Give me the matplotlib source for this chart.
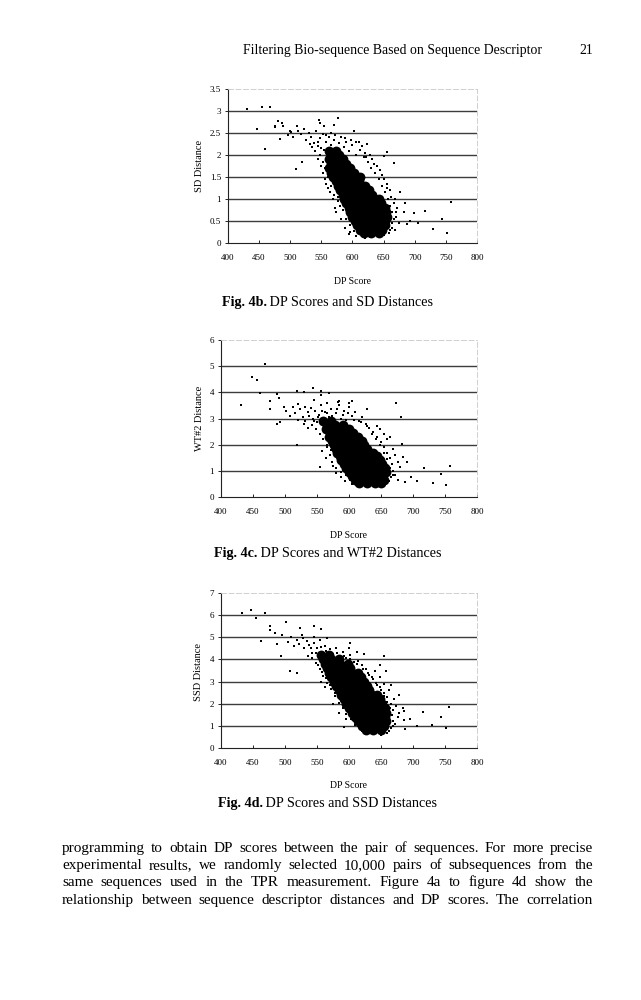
import numpy as np
import matplotlib
matplotlib.use('Agg')
import matplotlib.pyplot as plt
from matplotlib.ticker import MultipleLocator, FuncFormatter

plt.rcParams['font.family'] = ['Liberation Serif', 'DejaVu Serif']

# ---- data (DP score, distance) ----
# dense core of each cloud
sd_core = [(562, 2.1), (574, 2.1),
           (566, 2.0), (578, 2.0),
           (562, 1.9), (572, 1.9), (584, 1.9),
           (566, 1.8), (578, 1.8), (590, 1.8),
           (562, 1.7), (572, 1.7), (584, 1.7), (596, 1.7),
           (566, 1.6), (578, 1.6), (590, 1.6), (602, 1.6),
           (568, 1.5), (580, 1.5), (592, 1.5), (604, 1.5), (612, 1.5),
           (574, 1.4), (586, 1.4), (598, 1.4), (610, 1.4),
           (576, 1.3), (588, 1.3), (600, 1.3), (612, 1.3), (620, 1.3),
           (580, 1.2), (592, 1.2), (604, 1.2), (616, 1.2), (626, 1.2),
           (584, 1.1), (596, 1.1), (608, 1.1), (620, 1.1), (632, 1.1),
           (586, 1.0), (598, 1.0), (610, 1.0), (622, 1.0), (634, 1.0), (642, 1.0),
           (590, 0.9), (602, 0.9), (614, 0.9), (626, 0.9), (638, 0.9), (646, 0.9),
           (594, 0.8), (606, 0.8), (618, 0.8), (630, 0.8), (642, 0.8), (652, 0.8),
           (596, 0.7), (608, 0.7), (620, 0.7), (632, 0.7), (644, 0.7), (654, 0.7),
           (600, 0.6), (612, 0.6), (624, 0.6), (636, 0.6), (648, 0.6), (656, 0.6),
           (604, 0.5), (616, 0.5), (628, 0.5), (640, 0.5), (652, 0.5),
           (608, 0.4), (620, 0.4), (632, 0.4), (644, 0.4), (652, 0.4),
           (612, 0.3), (624, 0.3), (636, 0.3), (648, 0.3),
           (618, 0.22), (630, 0.22), (642, 0.22)]
sd_edge = [(497, 2.45), (502, 2.52), (505, 2.40), (512, 2.55), (518, 2.48), (522, 2.60),
           (526, 2.35), (530, 2.50), (534, 2.42), (538, 2.28), (541, 2.55), (545, 2.20),
           (548, 2.38), (552, 2.48), (555, 2.12), (558, 2.30), (561, 2.05), (563, 2.40),
           (566, 2.22), (570, 2.35), (574, 2.15), (578, 2.28), (582, 2.42), (586, 2.18),
           (590, 2.30), (595, 2.10), (600, 2.22), (605, 2.00), (612, 2.12), (618, 1.95),
           (625, 1.85), (630, 1.70), (636, 1.60), (642, 1.45), (647, 1.30), (652, 1.15),
           (657, 1.00), (661, 0.85), (664, 0.70), (666, 0.55), (663, 0.35), (658, 0.22),
           (650, 0.18), (640, 0.15), (628, 0.14), (615, 0.18), (603, 0.28), (596, 0.40),
           (590, 0.55), (585, 0.75), (580, 0.85), (576, 0.95), (571, 1.10), (566, 1.30),
           (561, 1.50), (556, 1.70), (552, 1.85), (548, 2.00), (544, 1.90), (540, 2.10),
           (535, 2.18), (531, 2.25), (556, 1.45), (560, 1.25), (572, 0.80), (577, 1.05),
           (610, 2.30), (620, 2.05), (632, 1.90), (640, 1.75), (648, 1.55), (655, 1.35),
           (660, 1.20), (668, 1.00), (672, 0.80), (670, 0.60), (675, 0.45), (668, 0.30),
           (545, 2.30), (550, 2.15), (557, 2.45), (565, 2.50), (572, 2.45), (588, 2.38),
           (598, 2.35), (606, 2.30), (615, 2.20), (622, 1.95), (628, 2.00), (634, 1.80),
           (644, 1.65), (650, 1.45), (656, 1.25), (662, 1.05), (666, 0.90), (670, 0.70),
           (553, 1.60), (549, 1.75), (558, 1.35), (564, 1.15), (568, 1.00), (574, 0.70),
           (582, 0.55), (588, 0.35), (596, 0.25), (606, 0.15), (620, 0.12), (660, 0.30),
           (664, 0.45)]
sd_out = [(430, 3.05), (455, 3.08), (467, 3.10), (447, 2.59), (460, 2.14), (475, 2.67),
          (476, 2.63), (480, 2.77), (484, 2.37), (487, 2.73), (489, 2.65), (500, 2.54),
          (509, 1.68), (511, 2.67), (519, 1.83), (546, 2.79), (548, 2.73), (554, 2.67),
          (571, 2.69), (577, 2.84), (603, 2.54), (623, 2.26), (655, 2.06), (650, 1.98),
          (666, 1.82), (677, 1.17), (685, 0.91), (698, 0.68), (717, 0.72), (706, 0.45),
          (730, 0.32), (744, 0.55), (752, 0.23), (758, 0.93), (595, 0.21), (682, 0.70),
          (688, 0.44), (692, 0.49)]

wt_core = [(560, 2.9), (572, 2.9),
           (566, 2.75), (578, 2.75), (590, 2.75),
           (564, 2.6), (576, 2.6), (588, 2.6), (600, 2.6),
           (570, 2.45), (582, 2.45), (594, 2.45), (606, 2.45),
           (568, 2.3), (580, 2.3), (592, 2.3), (604, 2.3), (614, 2.3),
           (574, 2.15), (586, 2.15), (598, 2.15), (610, 2.15), (620, 2.15),
           (576, 2.0), (588, 2.0), (600, 2.0), (612, 2.0), (624, 2.0),
           (580, 1.85), (592, 1.85), (604, 1.85), (616, 1.85), (628, 1.85),
           (582, 1.7), (594, 1.7), (606, 1.7), (618, 1.7), (630, 1.7), (638, 1.7),
           (586, 1.55), (598, 1.55), (610, 1.55), (622, 1.55), (634, 1.55), (644, 1.55),
           (588, 1.4), (600, 1.4), (612, 1.4), (624, 1.4), (636, 1.4), (648, 1.4),
           (592, 1.25), (604, 1.25), (616, 1.25), (628, 1.25), (640, 1.25), (652, 1.25),
           (596, 1.1), (608, 1.1), (620, 1.1), (632, 1.1), (644, 1.1), (656, 1.1),
           (600, 0.95), (612, 0.95), (624, 0.95), (636, 0.95), (648, 0.95), (658, 0.95),
           (604, 0.8), (616, 0.8), (628, 0.8), (640, 0.8), (652, 0.8),
           (610, 0.65), (622, 0.65), (634, 0.65), (646, 0.65), (654, 0.65),
           (616, 0.52), (628, 0.52), (640, 0.52), (650, 0.52)]
wt_edge = [(502, 3.30), (508, 3.10), (512, 3.45), (516, 3.20), (520, 2.95), (524, 3.35),
           (528, 3.05), (532, 2.90), (536, 3.25), (540, 3.40), (544, 3.00), (547, 3.30),
           (550, 2.85), (553, 3.15), (556, 3.50), (559, 2.95), (562, 3.25), (565, 3.60),
           (568, 3.05), (572, 3.35), (576, 2.95), (580, 3.20), (584, 3.50), (588, 3.00),
           (592, 3.30), (596, 2.95), (600, 3.45), (605, 3.10), (610, 3.25), (615, 2.90),
           (620, 3.05), (626, 2.80), (632, 2.65), (638, 2.50), (644, 2.30), (650, 2.10),
           (655, 1.90), (660, 1.70), (664, 1.50), (667, 1.25), (668, 1.00), (666, 0.75),
           (660, 0.55), (650, 0.45), (638, 0.42), (625, 0.45), (612, 0.50), (602, 0.65),
           (596, 0.85), (590, 1.05), (584, 1.30), (578, 1.55), (572, 1.80), (566, 2.00),
           (560, 2.20), (554, 2.40), (548, 2.60), (542, 2.75), (536, 2.65), (530, 2.80),
           (558, 1.75), (564, 1.50), (575, 1.20), (580, 0.90), (588, 0.75),
           (648, 2.60), (655, 2.40), (660, 2.20), (668, 1.85), (672, 1.60), (676, 1.35),
           (680, 1.15), (672, 0.85), (676, 0.65), (584, 3.65), (600, 3.60), (520, 3.55),
           (532, 3.45), (556, 3.90), (545, 3.70),
           (538, 3.10), (545, 2.90), (552, 3.05), (558, 3.30), (566, 3.20), (574, 3.10),
           (582, 3.35), (590, 3.15), (598, 3.20), (608, 2.95), (618, 2.85), (628, 2.70),
           (636, 2.40), (642, 2.20), (648, 2.00), (654, 1.70), (660, 1.45), (664, 1.10),
           (668, 0.85), (662, 0.60), (570, 1.60), (566, 1.90), (574, 1.35), (580, 1.10),
           (588, 0.95), (594, 0.60), (604, 0.48), (630, 0.40), (644, 0.42)]
wt_out = [(432, 3.50), (448, 4.57), (456, 4.47), (468, 5.10), (461, 3.98), (476, 3.66),
          (476, 3.38), (487, 3.92), (487, 2.80), (492, 2.87), (490, 3.77), (499, 3.45),
          (518, 4.06), (519, 2.00), (530, 4.02), (543, 4.17), (556, 4.05), (568, 3.96),
          (583, 3.64), (604, 3.66), (628, 3.36), (644, 2.72), (673, 3.60), (681, 3.06),
          (664, 2.30), (683, 2.04), (685, 1.53), (690, 1.34), (688, 0.57), (697, 0.77),
          (706, 0.60), (717, 1.12), (731, 0.55), (744, 0.87), (751, 0.47), (758, 1.19),
          (555, 1.15)]

ssd_core = [(556, 4.2), (568, 4.2),
            (560, 4.0), (572, 4.0), (584, 4.0),
            (562, 3.8), (574, 3.8), (586, 3.8), (598, 3.8),
            (566, 3.6), (578, 3.6), (590, 3.6), (602, 3.6),
            (568, 3.4), (580, 3.4), (592, 3.4), (604, 3.4), (614, 3.4),
            (572, 3.2), (584, 3.2), (596, 3.2), (608, 3.2), (618, 3.2),
            (576, 3.0), (588, 3.0), (600, 3.0), (612, 3.0), (624, 3.0),
            (580, 2.8), (592, 2.8), (604, 2.8), (616, 2.8), (628, 2.8),
            (584, 2.6), (596, 2.6), (608, 2.6), (620, 2.6), (632, 2.6),
            (588, 2.4), (600, 2.4), (612, 2.4), (624, 2.4), (636, 2.4), (644, 2.4),
            (592, 2.2), (604, 2.2), (616, 2.2), (628, 2.2), (640, 2.2), (648, 2.2),
            (596, 2.0), (608, 2.0), (620, 2.0), (632, 2.0), (644, 2.0), (652, 2.0),
            (600, 1.8), (612, 1.8), (624, 1.8), (636, 1.8), (648, 1.8), (656, 1.8),
            (604, 1.6), (616, 1.6), (628, 1.6), (640, 1.6), (652, 1.6), (658, 1.6),
            (610, 1.4), (622, 1.4), (634, 1.4), (646, 1.4), (656, 1.4),
            (614, 1.2), (626, 1.2), (638, 1.2), (650, 1.2), (658, 1.2),
            (620, 1.0), (632, 1.0), (644, 1.0), (654, 1.0),
            (626, 0.8), (638, 0.8), (650, 0.8)]
ssd_edge = [(505, 4.80), (510, 5.00), (514, 4.60), (518, 4.90), (522, 4.70), (526, 5.10),
            (530, 4.50), (534, 4.85), (538, 4.65), (542, 4.30), (546, 4.75), (550, 4.50),
            (554, 4.90), (558, 4.35), (562, 4.60), (566, 4.20), (570, 4.45), (575, 4.25),
            (580, 4.50), (585, 4.15), (590, 4.35), (596, 4.05), (602, 4.20), (608, 3.90),
            (614, 3.95), (620, 3.75), (626, 3.55), (632, 3.30), (638, 3.10), (644, 2.85),
            (650, 2.60), (655, 2.35), (660, 2.10), (664, 1.80), (667, 1.50), (668, 1.20),
            (665, 0.90), (660, 0.70), (650, 0.60), (638, 0.62), (628, 0.70), (618, 0.85),
            (610, 1.05), (603, 1.30), (596, 1.55), (590, 1.80), (584, 2.05), (578, 2.35),
            (572, 2.65), (566, 2.95), (560, 3.25), (554, 3.55), (548, 3.85), (542, 4.05),
            (536, 4.15), (557, 3.00), (563, 2.75), (575, 2.00), (585, 1.60), (595, 1.30),
            (640, 3.50), (648, 3.20), (655, 2.90), (662, 2.60), (670, 2.20), (674, 1.90),
            (678, 1.60), (672, 1.10), (676, 1.40), (600, 4.50), (612, 4.35), (545, 5.00),
            (528, 4.95),
            (540, 4.50), (548, 4.30), (556, 4.55), (564, 4.40), (572, 4.20), (582, 4.30),
            (592, 4.15), (602, 4.00), (612, 3.80), (622, 3.55), (630, 3.40), (636, 3.20),
            (642, 2.95), (648, 2.75), (654, 2.50), (660, 2.30), (665, 2.00), (668, 1.70),
            (668, 1.00), (662, 0.78), (552, 3.75), (558, 3.45), (564, 3.15), (570, 2.85),
            (578, 2.50), (586, 2.20), (592, 1.90), (600, 1.60), (606, 1.40), (614, 1.00),
            (620, 0.75), (640, 0.70), (652, 0.65)]
ssd_out = [(433, 6.10), (447, 6.22), (455, 5.87), (468, 6.10), (462, 4.85), (476, 5.49),
           (476, 5.34), (485, 5.19), (487, 4.70), (493, 4.14), (495, 5.12), (502, 5.67),
           (508, 3.46), (518, 3.39), (523, 5.42), (546, 5.50), (556, 5.39), (566, 4.97),
           (601, 4.74), (623, 4.26), (654, 4.17), (648, 3.76), (658, 3.46), (665, 2.86),
           (678, 2.41), (684, 1.80), (686, 1.66), (686, 1.28), (695, 1.32), (688, 0.87),
           (706, 0.98), (716, 1.61), (730, 1.02), (744, 1.38), (751, 0.90), (757, 1.85),
           (592, 0.93)]

x_ticks = [400, 450, 500, 550, 600, 650, 700, 750, 800]

header = 'Filtering Bio-sequence Based on Sequence Descriptor'
page_no = '21'
para_lines = [
    'programming to obtain DP scores between the pair of sequences. For more precise',
    'experimental results, we randomly selected 10,000 pairs of subsequences from the',
    'same sequences used in the TPR measurement. Figure 4a to figure 4d show the',
    'relationship between sequence descriptor distances and DP scores. The correlation',
]

# ---- page layout in pixels ----
W, H = 641, 1000
fig = plt.figure(figsize=(W / 100, H / 100), dpi=100)


def fx(x):
    return x / W


def fy(y):
    return 1 - y / H


charts = [
    dict(box=(228, 89, 477, 243), ymax=3.5, ystep=0.5, ylabel='SD Distance',
         core=sd_core, edge=sd_edge, out=sd_out, ylab=(199, 166), xlab_y=282,
         fig_no='Fig. 4b.', caption=' DP Scores and SD Distances', cap_y=306),
    dict(box=(221, 340, 477, 497), ymax=6, ystep=1, ylabel='WT#2 Distance',
         core=wt_core, edge=wt_edge, out=wt_out, ylab=(199, 418), xlab_y=535,
         fig_no='Fig. 4c.', caption=' DP Scores and WT#2 Distances', cap_y=557),
    dict(box=(221, 593, 477, 748), ymax=7, ystep=1, ylabel='SSD Distance',
         core=ssd_core, edge=ssd_edge, out=ssd_out, ylab=(198, 672), xlab_y=785,
         fig_no='Fig. 4d.', caption=' DP Scores and SSD Distances', cap_y=807),
]

renderer = fig.canvas.get_renderer()
text_mid = (62 + 593) / 2

for c in charts:
    x0, y0, x1, y1 = c['box']
    ax = fig.add_axes([fx(x0), fy(y1), (x1 - x0) / W, (y1 - y0) / H])
    ax.set_xlim(400, 800)
    ax.set_ylim(0, c['ymax'])
    ax.set_xticks(x_ticks)
    ax.yaxis.set_major_locator(MultipleLocator(c['ystep']))
    ax.yaxis.set_major_formatter(FuncFormatter(lambda v, p: '{:g}'.format(v)))
    ax.tick_params(axis='x', direction='in', length=2.5, width=0.6, pad=8, labelsize=6.5)
    ax.tick_params(axis='y', direction='out', length=2, width=0.6, pad=3, labelsize=6.5)

    for s in ['top', 'right']:
        ax.spines[s].set_color('#c8c8c8')
        ax.spines[s].set_linewidth(0.6)
        ax.spines[s].set_linestyle((0, (6, 3)))
    for s in ['left', 'bottom']:
        ax.spines[s].set_color('#222222')
        ax.spines[s].set_linewidth(0.8)

    grid_y = np.arange(c['ystep'], c['ymax'] - 1e-9, c['ystep'])
    ax.hlines(grid_y, 400, 800, colors='#3c3c3c', linewidth=1.0, zorder=1)

    core = np.array(c['core'])
    edge = np.array(c['edge'])
    out = np.array(c['out'])
    ax.scatter(core[:, 0], core[:, 1], s=50, color='black', marker='o',
               linewidths=0, zorder=3)
    ax.scatter(edge[:, 0], edge[:, 1], s=4.5, color='black', marker='s',
               linewidths=0, zorder=3)
    ax.scatter(out[:, 0], out[:, 1], s=4, color='black', marker='s',
               linewidths=0, zorder=3)

    fig.text(fx(c['ylab'][0]), fy(c['ylab'][1]), c['ylabel'], rotation=90,
             ha='center', va='center', fontsize=7.5)
    fig.text(fx((x0 + x1) / 2), fy(c['xlab_y']), 'DP Score',
             ha='center', va='center', fontsize=7)

    # caption: bold figure number then plain text, centred on the text block
    t1 = fig.text(0, 0, c['fig_no'], fontsize=10.2, fontweight='bold', va='baseline')
    t2 = fig.text(0, 0, c['caption'], fontsize=10.2, va='baseline')
    w1 = t1.get_window_extent(renderer).width
    w2 = t2.get_window_extent(renderer).width
    start = text_mid - (w1 + w2) / 2
    t1.set_position((fx(start), fy(c['cap_y'])))
    t2.set_position((fx(start + w1), fy(c['cap_y'])))

# running head
fig.text(fx(243), fy(54), header, fontsize=9.9, va='baseline', ha='left')
fig.text(fx(593), fy(54), page_no, fontsize=9.9, va='baseline', ha='right')

# justified paragraph
para_base = [852, 869, 886, 904]
for line, yy in zip(para_lines, para_base):
    words = line.split()
    texts = [fig.text(0, 0, w, fontsize=11.0, va='baseline') for w in words]
    widths = [t.get_window_extent(renderer).width for t in texts]
    gap = (593 - 62 - sum(widths)) / (len(words) - 1)
    x = 62
    for t, w in zip(texts, widths):
        t.set_position((fx(x), fy(yy)))
        x += w + gap

fig.savefig('out.png', dpi=100)
